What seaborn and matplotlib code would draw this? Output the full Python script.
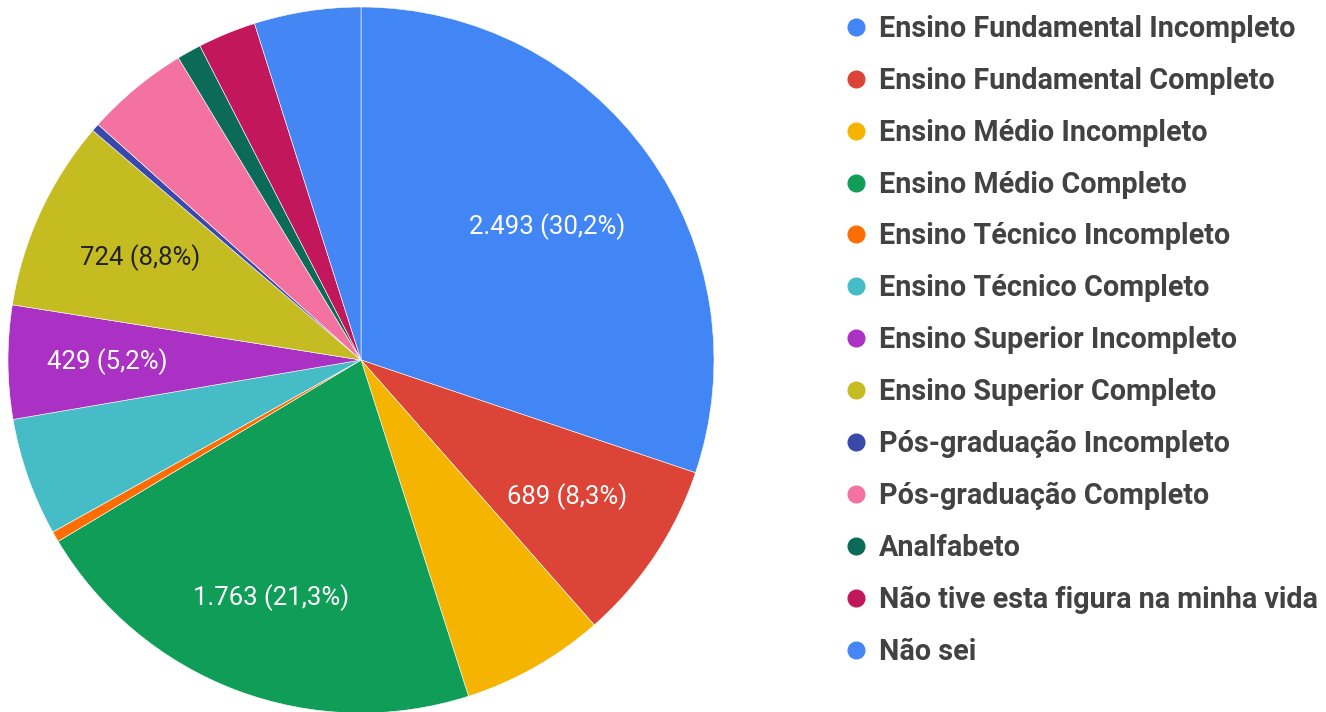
import matplotlib
matplotlib.use('Agg')
import matplotlib.pyplot as plt
import numpy as np
import seaborn as sns
from matplotlib.lines import Line2D

categorias = [
    'Ensino Fundamental Incompleto',
    'Ensino Fundamental Completo',
    'Ensino Médio Incompleto',
    'Ensino Médio Completo',
    'Ensino Técnico Incompleto',
    'Ensino Técnico Completo',
    'Ensino Superior Incompleto',
    'Ensino Superior Completo',
    'Pós-graduação Incompleto',
    'Pós-graduação Completo',
    'Analfabeto',
    'Não tive esta figura na minha vida',
    'Não sei',
]
valores = [2493, 689, 542, 1763, 40, 447, 429, 724, 30, 390, 92, 220, 403]
cores = ['#4285F4', '#DB4437', '#F4B400', '#0F9D58', '#FF6D00', '#46BDC6',
         '#AB30C4', '#C5BC22', '#3949AB', '#F472A0', '#0B6B58', '#C2185B',
         '#4487F4']
# slices that carry a label: (text colour, radial position)
rotulados = {0: ('white', 0.65), 1: ('white', 0.70), 3: ('white', 0.72),
             6: ('white', 0.72), 7: ('#222222', 0.69)}

sns.set_theme(style='white')
plt.rcParams['font.family'] = ['Roboto', 'DejaVu Sans']

fig = plt.figure(figsize=(13.26, 7.12), dpi=100)
ax = fig.add_axes([8 / 1326, -1 / 712, 706 / 1326, 706 / 712])

wedges, _ = ax.pie(valores, colors=sns.color_palette(cores), startangle=90,
                   counterclock=False,
                   wedgeprops=dict(edgecolor='white', linewidth=0.4))
ax.set_xlim(-1, 1)
ax.set_ylim(-1, 1)
ax.set_aspect('equal')
ax.axis('off')

total = sum(valores)


def fmt_br(v):
    return f'{v:,}'.replace(',', '.')


for i, (cor, r) in rotulados.items():
    w = wedges[i]
    ang = np.deg2rad((w.theta1 + w.theta2) / 2)
    pct = valores[i] / total * 100
    txt = f'{fmt_br(valores[i])} (' + f'{pct:.1f}'.replace('.', ',') + '%)'
    ax.text(r * np.cos(ang), r * np.sin(ang), txt, ha='center', va='center',
            color=cor, fontsize=18.5)

handles = [Line2D([0], [0], marker='o', linestyle='', markersize=12,
                  markerfacecolor=c, markeredgecolor=c) for c in cores]
leg = fig.legend(handles, categorias, loc='upper left',
                 bbox_to_anchor=(845 / 1326, 1 - 15 / 712), frameon=False,
                 prop=dict(family='Roboto', weight='bold', size=20.7),
                 labelcolor='#424242', labelspacing=0.83, handletextpad=0.38,
                 handlelength=0.8, borderpad=0, borderaxespad=0)

fig.savefig('out.png', dpi=100)
